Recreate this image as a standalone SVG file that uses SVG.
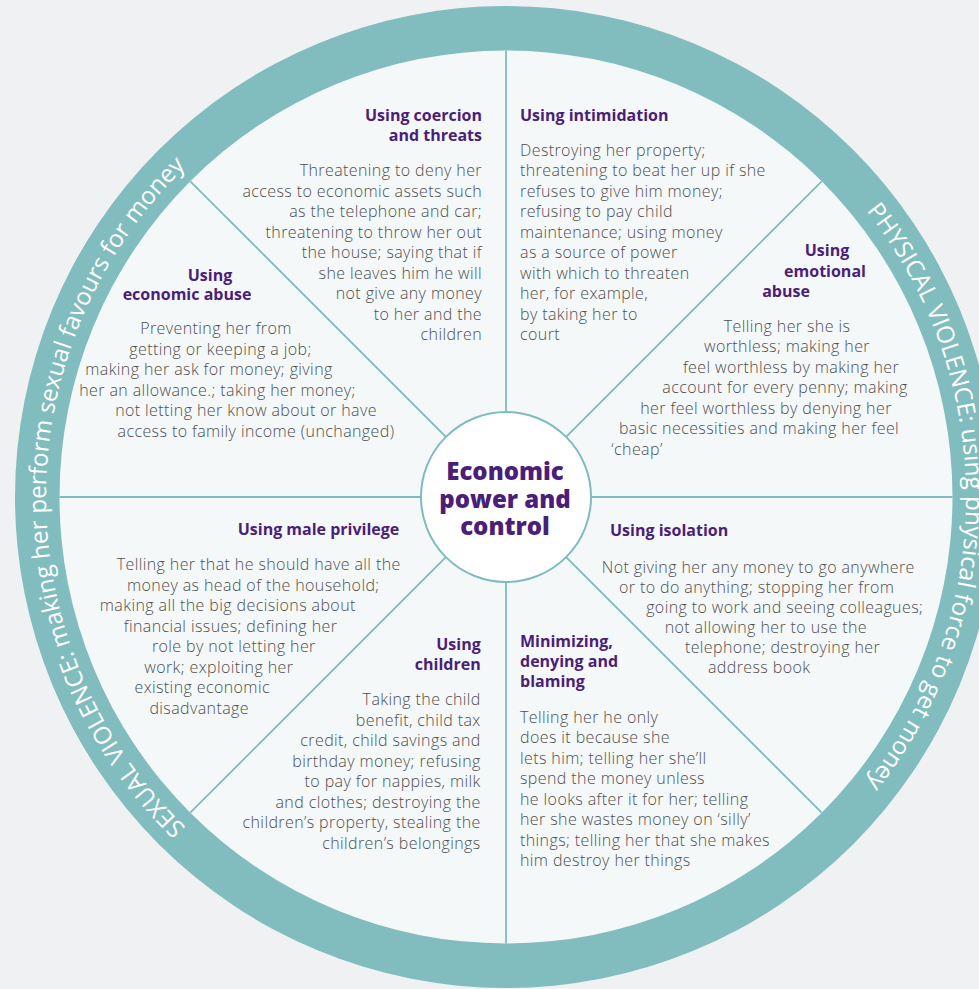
<svg xmlns="http://www.w3.org/2000/svg" xmlns:xlink="http://www.w3.org/1999/xlink" width="979" height="989" viewBox="0 0 979 989">
<style>
.t{font-family:"Open Sans","Liberation Sans",sans-serif;font-weight:700;font-size:16px;fill:#4b1e78}
.b{font-family:"Open Sans","Liberation Sans",sans-serif;font-weight:300;font-size:16px;letter-spacing:0.4px;fill:#4f4f4f}
.c{font-family:"Open Sans","Liberation Sans",sans-serif;font-weight:800;font-size:24px;fill:#4b1e78;text-anchor:middle}
.r{font-family:"Open Sans","Liberation Sans",sans-serif;font-size:24.2px;fill:#ffffff}
.s{stroke:#7fbcbd;stroke-width:1.8;fill:none}
.e{text-anchor:end}.m{text-anchor:middle}
</style>
<defs>
<path id="lp" d="M506,957 A460,460 0 0 1 506,37"/>
<path id="rp" d="M506,37 A460,460 0 0 1 506,957"/>
</defs>
<rect width="979" height="989" fill="#f0f1f3"/>
<g id="ring">
<circle cx="506" cy="497" r="491" fill="#81bdbe"/>
<circle cx="506" cy="497" r="446.5" fill="#f4f8f9"/>
<text class="r" text-anchor="middle"><textPath xlink:href="#lp" startOffset="50%">SEXUAL VIOLENCE: making her perform sexual favours for money</textPath></text>
<text class="r" text-anchor="middle"><textPath xlink:href="#rp" startOffset="50%">PHYSICAL VIOLENCE: using physical force to get money</textPath></text>
</g>
<g id="spokes" class="s">
<line x1="506" y1="50.5" x2="506" y2="412"/>
<line x1="506" y1="582" x2="506" y2="943.5"/>
<line x1="59.5" y1="497" x2="421" y2="497"/>
<line x1="591" y1="497" x2="952.5" y2="497"/>
<line x1="190.3" y1="181.3" x2="445.9" y2="436.9"/>
<line x1="566.1" y1="557.1" x2="821.7" y2="812.7"/>
<line x1="821.7" y1="181.3" x2="566.1" y2="436.9"/>
<line x1="445.9" y1="557.1" x2="190.3" y2="812.7"/>
</g>
<g id="center">
<circle cx="506" cy="497" r="85" fill="#ffffff" stroke="#7fbcbd" stroke-width="2"/>
<text class="c"><tspan x="505" y="480">Economic</tspan><tspan x="505" y="507.5">power and</tspan><tspan x="505" y="535">control</tspan></text>
</g>
<g id="coercion">
<text class="t e"><tspan x="482" y="120.7">Using coercion</tspan><tspan x="482" y="140.7">and threats</tspan></text>
<text class="b e"><tspan x="482" y="176">Threatening to deny her</tspan><tspan x="482" y="196.5">access to economic assets such</tspan><tspan x="482" y="217">as the telephone and car;</tspan><tspan x="482" y="237.5">threatening to throw her out</tspan><tspan x="482" y="258">the house; saying that if</tspan><tspan x="482" y="278.5">she leaves him he will</tspan><tspan x="482" y="299">not give any money</tspan><tspan x="482" y="319.5">to her and the</tspan><tspan x="482" y="340">children</tspan></text>
</g>
<g id="intimidation">
<text class="t"><tspan x="520" y="120.7">Using intimidation</tspan></text>
<text class="b"><tspan x="520" y="155.5">Destroying her property;</tspan><tspan x="520" y="176">threatening to beat her up if she</tspan><tspan x="520" y="196.5">refuses to give him money;</tspan><tspan x="520" y="217">refusing to pay child</tspan><tspan x="520" y="237.5">maintenance; using money</tspan><tspan x="520" y="258">as a source of power</tspan><tspan x="520" y="278.5">with which to threaten</tspan><tspan x="520" y="299">her, for example,</tspan><tspan x="520" y="319.5">by taking her to</tspan><tspan x="520" y="340">court</tspan></text>
</g>
<g id="emotional">
<text class="t m"><tspan x="827" y="256">Using</tspan><tspan x="825" y="276.5">emotional</tspan><tspan x="786" y="296.5">abuse</tspan></text>
<text class="b m"><tspan x="787" y="331.5">Telling her she is</tspan><tspan x="787" y="352">worthless; making her</tspan><tspan x="791" y="372.5">feel worthless by making her</tspan><tspan x="785" y="393">account for every penny; making</tspan><tspan x="766" y="413.5">her feel worthless by denying her</tspan><tspan x="759" y="434">basic necessities and making her feel</tspan><tspan x="637" y="454.5">‘cheap’</tspan></text>
</g>
<g id="economic">
<text class="t m"><tspan x="210" y="280.5">Using</tspan><tspan x="187" y="300">economic abuse</tspan></text>
<text class="b m"><tspan x="216" y="334">Preventing her from</tspan><tspan x="220.5" y="354.5">getting or keeping a job;</tspan><tspan x="209" y="375">making her ask for money; giving</tspan><tspan x="217.5" y="395.5">her an allowance.; taking her money;</tspan><tspan x="246" y="416">not letting her know about or have</tspan><tspan x="256" y="436.5">access to family income (unchanged)</tspan></text>
</g>
<g id="male">
<text class="t m"><tspan x="318.5" y="535">Using male privilege</tspan></text>
<text class="b m"><tspan x="258.7" y="570">Telling her that he should have all the</tspan><tspan x="253.3" y="590.5">money as head of the household;</tspan><tspan x="227.8" y="611">making all the big decisions about</tspan><tspan x="230.5" y="631.5">financial issues; defining her</tspan><tspan x="233.8" y="652">role by not letting her</tspan><tspan x="218.8" y="672.5">work; exploiting her</tspan><tspan x="202.2" y="693">existing economic</tspan><tspan x="199.2" y="713.5">disadvantage</tspan></text>
</g>
<g id="isolation">
<text class="t"><tspan x="610" y="536">Using isolation</tspan></text>
<text class="b m"><tspan x="758.3" y="572.7">Not giving her any money to go anywhere</tspan><tspan x="756.7" y="592.7">or to do anything; stopping her from</tspan><tspan x="784.7" y="612.7">going to work and seeing colleagues;</tspan><tspan x="765.8" y="633">not allowing her to use the</tspan><tspan x="782.5" y="653.3">telephone; destroying her</tspan><tspan x="759.2" y="673.3">address book</tspan></text>
</g>
<g id="children">
<text class="t e"><tspan x="480.7" y="650">Using</tspan><tspan x="480.7" y="670">children</tspan></text>
<text class="b e"><tspan x="480.7" y="705">Taking the child</tspan><tspan x="480.7" y="725.5">benefit, child tax</tspan><tspan x="480.7" y="746">credit, child savings and</tspan><tspan x="480.7" y="766.5">birthday money; refusing</tspan><tspan x="480.7" y="787">to pay for nappies, milk</tspan><tspan x="480.7" y="807.5">and clothes; destroying the</tspan><tspan x="480.7" y="828">children’s property, stealing the</tspan><tspan x="480.7" y="848.5">children’s belongings</tspan></text>
</g>
<g id="minimizing">
<text class="t"><tspan x="520" y="647">Minimizing,</tspan><tspan x="520" y="667">denying and</tspan><tspan x="520" y="687">blaming</tspan></text>
<text class="b"><tspan x="520" y="722.7">Telling her he only</tspan><tspan x="520" y="743.2">does it because she</tspan><tspan x="520" y="763.7">lets him; telling her she’ll</tspan><tspan x="520" y="784.2">spend the money unless</tspan><tspan x="520" y="804.7">he looks after it for her; telling</tspan><tspan x="520" y="825.2">her she wastes money on ‘silly’</tspan><tspan x="520" y="845.7">things; telling her that she makes</tspan><tspan x="520" y="866.2">him destroy her things</tspan></text>
</g>
</svg>
